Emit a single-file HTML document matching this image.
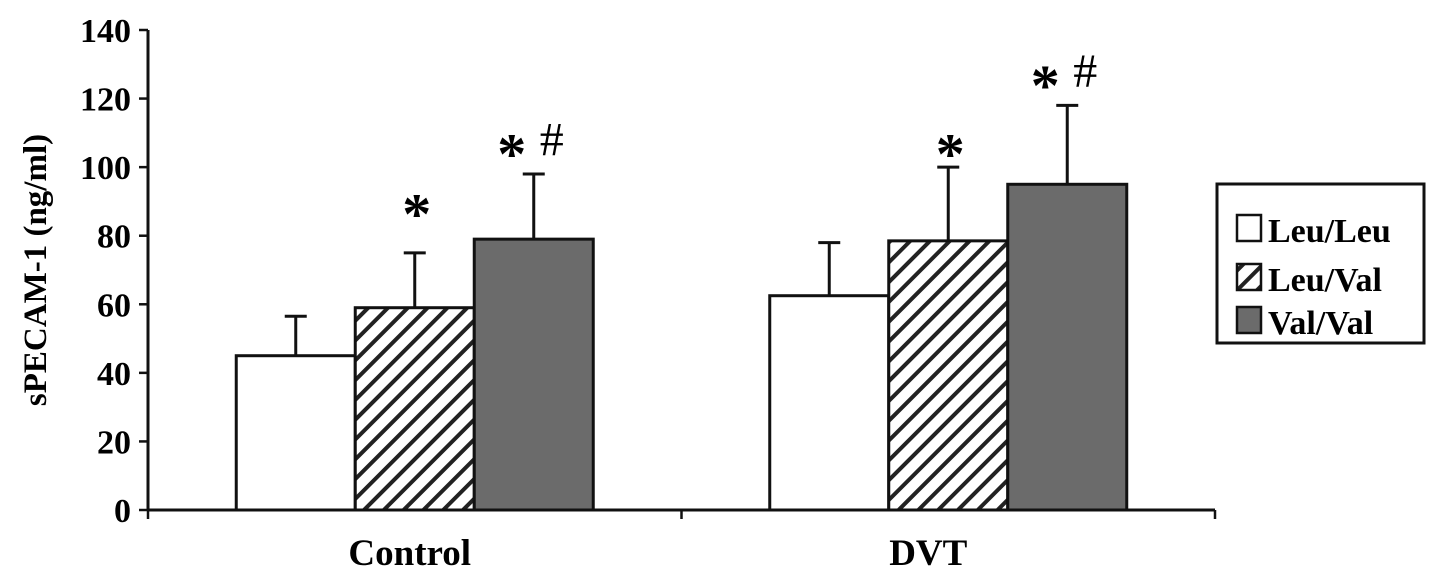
<!DOCTYPE html>
<html><head><meta charset="utf-8"><style>
body{margin:0;background:#fff}
svg{display:block;font-family:"Liberation Serif",serif}
</style></head><body>
<svg id="chart" width="1441" height="576" viewBox="0 0 1441 576">
<defs>
<pattern id="hatch" patternUnits="userSpaceOnUse" width="14" height="14" patternTransform="rotate(45)">
<rect width="14" height="14" fill="#fff"/><rect x="0" y="0" width="4" height="14" fill="#222"/>
</pattern>
</defs>
<g id="plot"></g>
<g>
<rect x="1217" y="184" width="207" height="159" fill="#fff" stroke="#111" stroke-width="3"/>
<rect x="1237" y="215" width="24" height="26" fill="#fff" stroke="#111" stroke-width="2.5"/>
<text x="1268" y="242" font-size="34" font-weight="bold">Leu/Leu</text>
<rect x="1237" y="264" width="24" height="26" fill="url(#hatch)" stroke="#111" stroke-width="2.5"/>
<text x="1268" y="291" font-size="34" font-weight="bold">Leu/Val</text>
<rect x="1237" y="307" width="24" height="26" fill="#6b6b6b" stroke="#111" stroke-width="2.5"/>
<text x="1268" y="334" font-size="34" font-weight="bold">Val/Val</text>
</g>
<text transform="translate(46,270) rotate(-90)" text-anchor="middle" font-size="33" font-weight="bold">sPECAM-1 (ng/ml)</text>
</svg>
<script>
const categories=["Control","DVT"];
const series=["Leu/Leu","Leu/Val","Val/Val"];
const leuLeu=[45,62.5];
const leuVal=[59,78.5];
const valVal=[79,95];
const errLeuLeu=[56.5,78];
const errLeuVal=[75,100];
const errValVal=[98,118];
const yTicks=[0,20,40,60,80,100,120,140];
const annotations=[
 {cat:0,ser:1,text:"*",value:88.5},
 {cat:0,ser:2,text:"*",value:106},
 {cat:0,ser:2,text:"#",value:108,dx:18},
 {cat:1,ser:1,text:"*",value:106},
 {cat:1,ser:2,text:"*",value:126},
 {cat:1,ser:2,text:"#",value:128,dx:18}
];
const NS="http://www.w3.org/2000/svg";
const g=document.getElementById('plot');
const x0=148,x1=1215,y0=510,y1=30,yMax=140;
const yS=v=>y0-(v/yMax)*(y0-y1);
const groupW=(x1-x0)/categories.length;
const barW=119;
const barX=(c,s)=>x0+c*groupW+(groupW-3*barW)/2+s*barW;
function el(t,a){const e=document.createElementNS(NS,t);for(const k in a)e.setAttribute(k,a[k]);g.appendChild(e);return e;}
const vals=[leuLeu,leuVal,valVal],errs=[errLeuLeu,errLeuVal,errValVal];
const fills=["#fff","url(#hatch)","#6b6b6b"];
categories.forEach((c,ci)=>{
 series.forEach((s,si)=>{
  const x=barX(ci,si),cx=x+barW/2;
  const e=el('line',{x1:cx,x2:cx,y1:yS(vals[si][ci]),y2:yS(errs[si][ci]),stroke:'#111','stroke-width':3});
  
  
  const cap=el('line',{x1:cx-11,x2:cx+11,y1:yS(errs[si][ci]),y2:yS(errs[si][ci]),stroke:'#111','stroke-width':3});
  
  
  const r=el('rect',{x:x,y:yS(vals[si][ci]),width:barW,height:y0-yS(vals[si][ci]),fill:fills[si],stroke:'#111','stroke-width':3});
  
  
 });
 const t=el('text',{x:x0+ci*groupW+groupW/2-(ci===1?20:5),y:565,'text-anchor':'middle','font-size':37,'font-weight':'bold'});
 t.textContent=c;
 
 
});
annotations.forEach(a=>{
 const cx=barX(a.cat,a.ser)+barW/2+(a.dx||0)-(a.text==='*'&&a.ser===2?22:0)-(a.text==='*'&&a.ser===1?-2:0);
 const t=el('text',{x:cx,y:yS(a.value)+(a.text==='*'?27:16),'text-anchor':'middle','font-size':a.text==='*'?58:48,'font-weight':a.text==='*'?'bold':'normal'});
 t.textContent=a.text;
 
 
});
const ya=el('line',{x1:x0,x2:x0,y1:y1,y2:y0,stroke:'#111','stroke-width':3});


const xa=el('line',{x1:x0,x2:x1,y1:y0,y2:y0,stroke:'#111','stroke-width':3});


[0,1,2].forEach(i=>{const xx=x0+i*groupW;const tk=el('line',{x1:xx,x2:xx,y1:y0,y2:y0+9,stroke:'#111','stroke-width':2.5});
 
 });
yTicks.forEach(v=>{
 const tk=el('line',{x1:x0-9,x2:x0,y1:yS(v),y2:yS(v),stroke:'#111','stroke-width':2.5});
 
 
 const t=el('text',{x:x0-17,y:yS(v)+12,'text-anchor':'end','font-size':34,'font-weight':'bold'});
 t.textContent=v;
 
 
});
</script>
</body></html>
